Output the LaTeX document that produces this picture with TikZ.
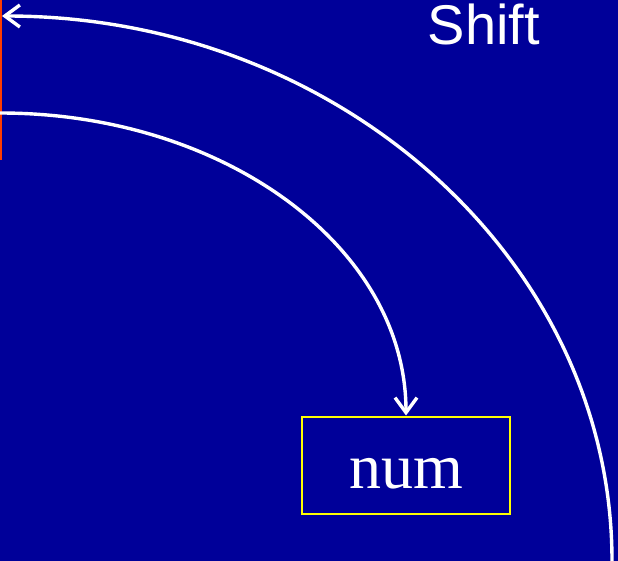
\documentclass[tikz,border=0pt]{standalone}
\usepackage{fontspec}
\setmainfont{Liberation Serif}
\newfontfamily\shiftfont{Liberation Sans}
\usetikzlibrary{arrows.meta}
\definecolor{slideblue}{RGB}{0,0,153}
\definecolor{edgered}{RGB}{255,60,0}
\definecolor{boxyellow}{RGB}{255,255,0}

\begin{document}
\begin{tikzpicture}[x=1pt,y=-1pt,
		curve/.style={draw=white,line width=3.4pt,line cap=round,-{Straight Barb[length=15pt,width=22pt,line width=3.4pt]}},
		every node/.style={inner sep=0pt,anchor=center}]
	\fill[slideblue] (0,0) rectangle (618,561);
	\useasboundingbox (0,0) rectangle (618,561);
	
	\draw[edgered,line width=2.5pt] (1,0) -- (1,160);
	
	\node[text=white,font=\shiftfont\fontsize{56}{60}\selectfont] (shift) at (484,24) {Shift};
	\node[draw=boxyellow,line width=2pt,minimum width=208pt,minimum height=97pt,
		text height=47pt,text depth=0pt,
		text=white,font=\fontsize{64}{70}\selectfont] (num) at (406,465) {num};
	
	\coordinate (bottom) at (612,561);
	\coordinate (top) at (2,16);
	\coordinate (left) at (0,113);
	
	\draw[curve] (bottom) .. controls (612,260) and (338,16) .. (top);
	\draw[curve] (left) .. controls (224,113) and (406,247) .. (num.north);
\end{tikzpicture}
\end{document}
